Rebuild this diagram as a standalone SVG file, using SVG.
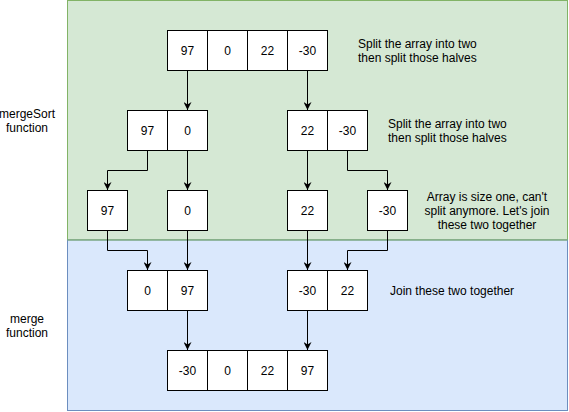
<svg xmlns="http://www.w3.org/2000/svg" width="569" height="412" viewBox="0 0 569 412">
  <style>
    .cell { fill: #ffffff; stroke: #000000; stroke-width: 1; }
    .num { font-family: "Liberation Sans", Arial, sans-serif; font-size: 12px; fill: #000000; text-anchor: middle; dominant-baseline: central; }
    .note { font-family: "Liberation Sans", Arial, sans-serif; font-size: 12px; fill: #000000; }
    .edge { fill: none; stroke: #000000; stroke-width: 1; marker-end: url(#arrow); }
  </style>
  <defs>
    <marker id="arrow" viewBox="0 0 10 10" refX="10" refY="5" markerWidth="8" markerHeight="8" markerUnits="userSpaceOnUse" orient="auto">
      <path d="M0,0 L10,5 L0,10 L3,5 Z" fill="#000000"/>
    </marker>
  </defs>

  <!-- phase backgrounds -->
  <g id="mergeSort-phase">
    <rect x="67.5" y="0.5" width="500" height="239.5" fill="#d5e8d4" stroke="#82b366"/>
  </g>
  <g id="merge-phase">
    <rect x="67.5" y="240" width="500" height="170.5" fill="#dae8fc" stroke="#6c8ebf"/>
  </g>
  <g id="mergeSort-phase-line">
    <line x1="67.5" y1="240" x2="567.5" y2="240" stroke="#82b366"/>
  </g>

  <!-- side labels -->
  <g id="label-mergeSort">
    <text class="note" text-anchor="middle" x="27" y="118">mergeSort</text>
    <text class="note" text-anchor="middle" x="27" y="132">function</text>
  </g>
  <g id="label-merge">
    <text class="note" text-anchor="middle" x="27" y="323">merge</text>
    <text class="note" text-anchor="middle" x="27" y="337">function</text>
  </g>

  <!-- connectors -->
  <g id="connectors">
    <path class="edge" d="M187.5,70 L187.5,110"/>
    <path class="edge" d="M307.5,70 L307.5,110"/>
    <path class="edge" d="M147.5,150 L147.5,170.5 L107.5,170.5 L107.5,190"/>
    <path class="edge" d="M187.5,150 L187.5,190"/>
    <path class="edge" d="M307.5,150 L307.5,190"/>
    <path class="edge" d="M347.5,150 L347.5,170.5 L387.5,170.5 L387.5,190"/>
    <path class="edge" d="M107.5,230 L107.5,250.5 L147.5,250.5 L147.5,270"/>
    <path class="edge" d="M187.5,230 L187.5,270"/>
    <path class="edge" d="M307.5,230 L307.5,270"/>
    <path class="edge" d="M387.5,230 L387.5,250.5 L347.5,250.5 L347.5,270"/>
    <path class="edge" d="M187.5,310 L187.5,350"/>
    <path class="edge" d="M307.5,310 L307.5,350"/>
  </g>

  <!-- full array -->
  <g id="array-top">
    <rect class="cell" x="167.5" y="30.5" width="40" height="40"/>
    <rect class="cell" x="207.5" y="30.5" width="40" height="40"/>
    <rect class="cell" x="247.5" y="30.5" width="40" height="40"/>
    <rect class="cell" x="287.5" y="30.5" width="40" height="40"/>
    <text class="num" x="187.5" y="50.5">97</text>
    <text class="num" x="227.5" y="50.5">0</text>
    <text class="num" x="267.5" y="50.5">22</text>
    <text class="num" x="307.5" y="50.5">-30</text>
  </g>

  <!-- halves -->
  <g id="half-left">
    <rect class="cell" x="127.5" y="110.5" width="40" height="40"/>
    <rect class="cell" x="167.5" y="110.5" width="40" height="40"/>
    <text class="num" x="147.5" y="130.5">97</text>
    <text class="num" x="187.5" y="130.5">0</text>
  </g>
  <g id="half-right">
    <rect class="cell" x="287.5" y="110.5" width="40" height="40"/>
    <rect class="cell" x="327.5" y="110.5" width="40" height="40"/>
    <text class="num" x="307.5" y="130.5">22</text>
    <text class="num" x="347.5" y="130.5">-30</text>
  </g>

  <!-- single elements -->
  <g id="single-97">
    <rect class="cell" x="87.5" y="190.5" width="40" height="40"/>
    <text class="num" x="107.5" y="210.5">97</text>
  </g>
  <g id="single-0">
    <rect class="cell" x="167.5" y="190.5" width="40" height="40"/>
    <text class="num" x="187.5" y="210.5">0</text>
  </g>
  <g id="single-22">
    <rect class="cell" x="287.5" y="190.5" width="40" height="40"/>
    <text class="num" x="307.5" y="210.5">22</text>
  </g>
  <g id="single-neg30">
    <rect class="cell" x="367.5" y="190.5" width="40" height="40"/>
    <text class="num" x="387.5" y="210.5">-30</text>
  </g>

  <!-- merged pairs -->
  <g id="merged-left">
    <rect class="cell" x="127.5" y="270.5" width="40" height="40"/>
    <rect class="cell" x="167.5" y="270.5" width="40" height="40"/>
    <text class="num" x="147.5" y="290.5">0</text>
    <text class="num" x="187.5" y="290.5">97</text>
  </g>
  <g id="merged-right">
    <rect class="cell" x="287.5" y="270.5" width="40" height="40"/>
    <rect class="cell" x="327.5" y="270.5" width="40" height="40"/>
    <text class="num" x="307.5" y="290.5">-30</text>
    <text class="num" x="347.5" y="290.5">22</text>
  </g>

  <!-- sorted array -->
  <g id="array-sorted">
    <rect class="cell" x="167.5" y="350.5" width="40" height="40"/>
    <rect class="cell" x="207.5" y="350.5" width="40" height="40"/>
    <rect class="cell" x="247.5" y="350.5" width="40" height="40"/>
    <rect class="cell" x="287.5" y="350.5" width="40" height="40"/>
    <text class="num" x="187.5" y="370.5">-30</text>
    <text class="num" x="227.5" y="370.5">0</text>
    <text class="num" x="267.5" y="370.5">22</text>
    <text class="num" x="307.5" y="370.5">97</text>
  </g>

  <!-- annotations -->
  <g id="note-split-1">
    <text class="note" x="358" y="48">Split the array into two</text>
    <text class="note" x="358" y="62">then split those halves</text>
  </g>
  <g id="note-split-2">
    <text class="note" x="388" y="128">Split the array into two</text>
    <text class="note" x="388" y="142">then split those halves</text>
  </g>
  <g id="note-size-one">
    <text class="note" text-anchor="middle" x="487" y="201">Array is size one, can't</text>
    <text class="note" text-anchor="middle" x="487" y="215">split anymore. Let's join</text>
    <text class="note" text-anchor="middle" x="487" y="229">these two together</text>
  </g>
  <g id="note-join">
    <text class="note" x="390" y="295">Join these two together</text>
  </g>
</svg>
